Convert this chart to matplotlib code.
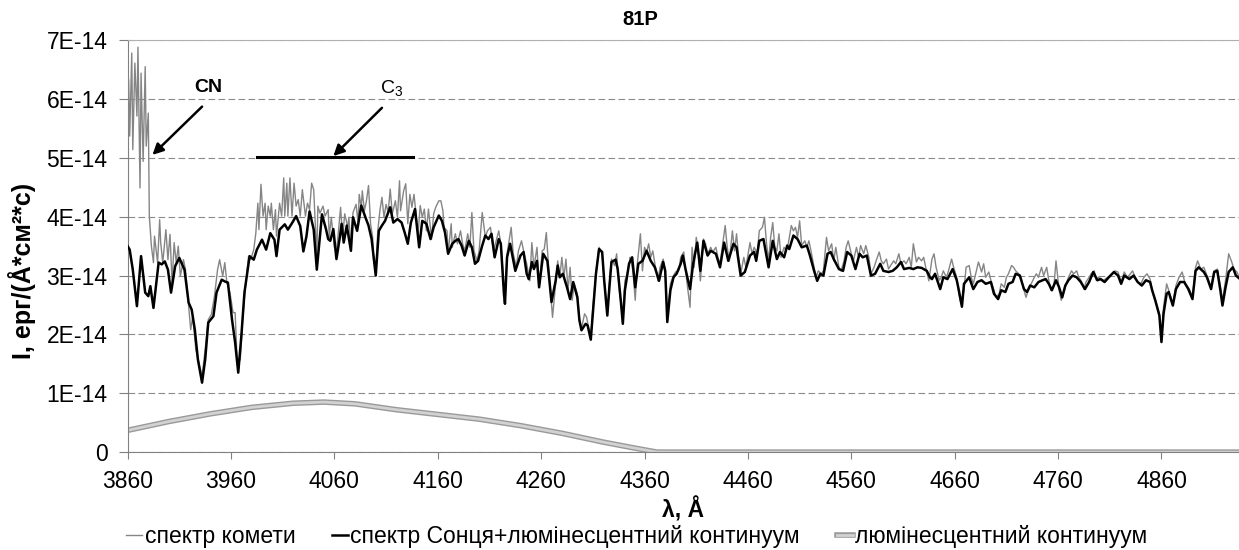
import numpy as np
import matplotlib.pyplot as plt
import matplotlib.patheffects as pe
from matplotlib.ticker import FuncFormatter

plt.rcParams['font.family'] = ['Liberation Sans', 'DejaVu Sans']

# wavelength in A, flux in units of 1E-14 erg/(A*cm2*s)
wl_comet = [3860, 3861, 3862, 3864, 3865, 3867, 3869, 3870, 3872, 3873, 3875, 3877, 3878, 3880,
            3881, 3883, 3885, 3886, 3889, 3891, 3892, 3894, 3897, 3899, 3901, 3903, 3905, 3907,
            3909, 3911, 3914, 3916, 3919, 3921, 3923, 3926, 3929, 3932, 3935, 3938, 3941, 3944,
            3947, 3949, 3952, 3954, 3956, 3959, 3962, 3964, 3966, 3969, 3971, 3974, 3977, 3979,
            3982, 3984, 3986, 3987, 3989, 3991, 3993, 3994, 3996, 3998, 3999, 4001, 4003, 4004,
            4007, 4009, 4011, 4012, 4014, 4015, 4017, 4019, 4021, 4023, 4025, 4027, 4029, 4032,
            4034, 4036, 4038, 4040, 4043, 4044, 4046, 4049, 4051, 4054, 4055, 4057, 4060, 4062,
            4064, 4066, 4068, 4070, 4073, 4074, 4076, 4078, 4081, 4083, 4084, 4086, 4087, 4089,
            4091, 4093, 4095, 4097, 4098, 4100, 4102, 4104, 4106, 4108, 4110, 4112, 4114, 4116,
            4119, 4121, 4123, 4124, 4127, 4129, 4131, 4133, 4135, 4137, 4139, 4141, 4143, 4145,
            4147, 4149, 4151, 4154, 4156, 4158, 4161, 4163, 4165, 4166, 4169, 4170, 4173, 4174,
            4177, 4179, 4182, 4184, 4186, 4189, 4191, 4193, 4195, 4198, 4200, 4203, 4206, 4208,
            4211, 4212, 4214, 4217, 4219, 4221, 4224, 4225, 4227, 4231, 4233, 4236, 4238, 4241,
            4244, 4246, 4249, 4251, 4253, 4256, 4258, 4261, 4263, 4265, 4267, 4269, 4271, 4274,
            4276, 4278, 4280, 4282, 4284, 4286, 4288, 4290, 4292, 4295, 4297, 4299, 4302, 4304,
            4307, 4308, 4310, 4313, 4316, 4319, 4321, 4324, 4326, 4328, 4331, 4333, 4336, 4339,
            4341, 4344, 4346, 4347, 4349, 4351, 4353, 4356, 4358, 4360, 4362, 4364, 4366, 4368,
            4370, 4373, 4375, 4378, 4380, 4382, 4385, 4388, 4390, 4393, 4395, 4398, 4400, 4402,
            4404, 4406, 4408, 4410, 4412, 4414, 4417, 4419, 4421, 4424, 4426, 4429, 4431, 4433,
            4436, 4438, 4440, 4442, 4445, 4447, 4449, 4451, 4453, 4456, 4458, 4462, 4464, 4466,
            4469, 4471, 4474, 4476, 4478, 4480, 4482, 4484, 4486, 4488, 4490, 4492, 4495, 4497,
            4499, 4502, 4504, 4506, 4508, 4510, 4512, 4515, 4517, 4519, 4521, 4524, 4526, 4528,
            4531, 4533, 4536, 4538, 4541, 4543, 4545, 4548, 4550, 4553, 4555, 4557, 4560, 4562,
            4565, 4567, 4569, 4572, 4574, 4577, 4579, 4582, 4584, 4587, 4589, 4591, 4594, 4596,
            4598, 4601, 4603, 4606, 4608, 4611, 4613, 4616, 4618, 4620, 4623, 4625, 4628, 4630,
            4632, 4635, 4638, 4640, 4642, 4645, 4647, 4649, 4652, 4654, 4657, 4659, 4662, 4664,
            4666, 4669, 4671, 4674, 4676, 4678, 4681, 4683, 4686, 4688, 4690, 4693, 4695, 4698,
            4700, 4703, 4705, 4708, 4710, 4712, 4715, 4717, 4719, 4722, 4724, 4727, 4729, 4732,
            4734, 4737, 4739, 4741, 4744, 4746, 4749, 4751, 4753, 4756, 4758, 4761, 4763, 4766,
            4768, 4770, 4773, 4775, 4778, 4780, 4782, 4785, 4787, 4790, 4792, 4795, 4797, 4799,
            4804, 4808, 4811, 4815, 4818, 4821, 4824, 4827, 4830, 4832, 4834, 4837, 4840, 4843,
            4846, 4849, 4851, 4854, 4858, 4860, 4862, 4865, 4867, 4871, 4874, 4877, 4880, 4883,
            4887, 4890, 4893, 4895, 4898, 4901, 4904, 4908, 4911, 4914, 4917, 4919, 4922, 4925,
            4928, 4930, 4933, 4936]
fl_comet = [5.48, 6.33, 5.37, 6.78, 5.14, 6.61, 5.71, 6.88, 4.49, 6.44, 4.94, 6.55, 5.20, 5.76,
            4.01, 3.50, 3.22, 3.67, 3.22, 3.95, 3.56, 3.22, 3.78, 3.27, 3.70, 2.88, 3.56, 3.22,
            3.50, 2.99, 3.27, 3.10, 2.48, 2.08, 2.31, 1.74, 1.52, 1.29, 1.74, 2.25, 2.34, 2.65,
            3.10, 3.27, 2.99, 3.22, 2.88, 2.71, 2.37, 2.37, 1.52, 1.57, 2.20, 2.82, 3.33, 3.27,
            3.44, 3.72, 4.23, 3.78, 4.55, 4.01, 4.23, 3.78, 4.18, 4.01, 4.23, 3.78, 4.12, 3.67,
            4.23, 4.01, 4.66, 4.01, 4.57, 4.01, 4.66, 4.01, 4.57, 4.18, 4.29, 4.01, 4.46, 4.01,
            4.23, 4.12, 4.57, 4.46, 3.30, 4.18, 4.06, 4.18, 4.01, 4.12, 3.65, 3.99, 3.48, 3.40,
            3.76, 4.16, 3.65, 4.05, 3.82, 3.99, 3.48, 4.07, 4.21, 3.88, 4.38, 4.16, 4.44, 4.10,
            4.27, 4.53, 3.88, 3.65, 3.25, 3.08, 3.76, 4.10, 4.33, 3.99, 4.21, 4.07, 4.47, 4.05,
            4.27, 3.99, 4.61, 4.10, 4.44, 4.56, 3.88, 4.38, 4.16, 4.38, 4.05, 3.71, 4.19, 3.99,
            4.13, 3.76, 4.13, 3.62, 4.05, 4.16, 4.27, 4.27, 4.10, 3.82, 3.76, 3.37, 3.88, 3.48,
            3.71, 3.54, 3.76, 3.54, 3.42, 3.71, 3.48, 4.07, 3.42, 3.25, 3.42, 4.07, 3.65, 3.76,
            3.82, 3.65, 3.42, 3.62, 3.76, 3.54, 2.86, 2.52, 3.37, 3.82, 3.37, 3.14, 3.42, 3.59,
            3.34, 3.20, 2.91, 3.56, 3.14, 3.48, 2.80, 3.42, 3.45, 3.73, 3.20, 2.75, 2.29, 2.86,
            3.25, 2.97, 3.31, 2.97, 3.28, 2.75, 3.14, 2.58, 2.86, 2.69, 2.24, 2.10, 2.35, 2.29,
            2.01, 1.95, 2.46, 3.03, 3.48, 3.37, 2.91, 2.35, 2.86, 3.28, 3.17, 3.37, 2.69, 2.24,
            2.91, 3.08, 3.31, 3.28, 3.03, 2.58, 3.20, 3.71, 3.08, 3.48, 3.40, 3.54, 3.31, 3.42,
            3.20, 2.91, 3.14, 3.28, 3.08, 2.29, 2.86, 3.00, 3.06, 3.08, 3.31, 3.40, 3.03, 2.75,
            2.46, 3.48, 3.14, 3.65, 3.42, 2.91, 3.62, 3.54, 3.37, 3.48, 3.40, 3.48, 3.31, 3.20,
            3.59, 3.85, 3.48, 3.25, 3.76, 3.42, 3.71, 3.31, 3.03, 3.31, 3.14, 3.56, 3.37, 3.48,
            3.37, 3.76, 3.82, 3.99, 3.54, 3.25, 3.65, 3.90, 3.48, 3.42, 3.71, 3.31, 3.48, 3.42,
            3.54, 3.85, 3.76, 3.82, 3.65, 3.93, 3.51, 3.59, 3.48, 3.59, 3.42, 3.14, 2.97, 3.08,
            3.03, 3.08, 3.65, 3.42, 3.54, 3.25, 3.48, 3.14, 3.08, 3.25, 3.48, 3.59, 3.37, 3.25,
            3.48, 3.31, 3.51, 3.37, 3.51, 3.31, 3.03, 3.14, 3.25, 3.40, 3.25, 3.20, 3.28, 3.11,
            3.17, 3.25, 3.20, 3.37, 3.20, 3.25, 3.20, 3.31, 3.14, 3.54, 3.23, 3.31, 3.25, 3.31,
            3.14, 2.91, 3.28, 3.37, 3.14, 2.92, 2.97, 3.08, 2.97, 3.08, 3.28, 3.14, 2.97, 2.69,
            2.52, 2.75, 3.14, 3.17, 2.97, 2.86, 3.08, 3.23, 3.06, 3.20, 2.97, 3.06, 2.92, 2.75,
            2.63, 2.69, 2.86, 2.80, 2.97, 3.03, 3.17, 3.14, 3.08, 3.03, 2.97, 2.75, 2.63, 2.80,
            2.86, 2.97, 3.03, 2.97, 3.14, 3.00, 3.14, 2.92, 2.75, 2.83, 3.25, 2.75, 2.58, 2.75,
            2.86, 2.97, 3.08, 3.03, 3.08, 2.97, 2.92, 2.77, 2.89, 2.97, 3.03, 3.08, 2.92, 2.97,
            2.92, 2.97, 3.00, 3.08, 3.06, 2.89, 3.06, 2.97, 3.03, 3.08, 3.00, 2.89, 2.86, 2.97,
            3.03, 2.94, 2.75, 2.58, 2.35, 1.90, 2.46, 2.86, 2.75, 2.52, 2.83, 2.97, 3.06, 2.86,
            2.77, 2.63, 3.14, 3.25, 3.11, 3.14, 3.00, 2.80, 3.08, 3.11, 2.80, 2.58, 2.92, 3.37,
            3.23, 3.11, 3.06, 2.94]

wl_sun = [3860, 3862, 3865, 3869, 3873, 3877, 3880, 3882, 3885, 3890, 3893, 3896, 3899, 3902,
          3906, 3910, 3915, 3919, 3922, 3925, 3928, 3932, 3935, 3938, 3943, 3946, 3951, 3954,
          3957, 3961, 3964, 3967, 3970, 3973, 3978, 3982, 3985, 3990, 3994, 3998, 4002, 4004,
          4007, 4012, 4015, 4019, 4023, 4027, 4030, 4033, 4036, 4040, 4043, 4048, 4052, 4054,
          4056, 4059, 4062, 4065, 4067, 4069, 4072, 4076, 4078, 4082, 4086, 4090, 4093, 4096,
          4098, 4100, 4103, 4106, 4109, 4114, 4117, 4121, 4125, 4128, 4131, 4134, 4138, 4142,
          4145, 4149, 4153, 4156, 4161, 4164, 4167, 4170, 4174, 4177, 4180, 4183, 4186, 4190,
          4193, 4196, 4199, 4203, 4206, 4209, 4212, 4215, 4219, 4221, 4224, 4225, 4227, 4230,
          4235, 4240, 4243, 4246, 4248, 4251, 4253, 4256, 4258, 4262, 4266, 4268, 4270, 4274,
          4276, 4278, 4281, 4285, 4288, 4291, 4295, 4297, 4299, 4303, 4305, 4308, 4310, 4313,
          4316, 4319, 4321, 4324, 4326, 4328, 4332, 4334, 4337, 4339, 4341, 4345, 4348, 4351,
          4354, 4358, 4362, 4366, 4370, 4374, 4378, 4380, 4382, 4385, 4388, 4391, 4395, 4397,
          4400, 4404, 4407, 4411, 4414, 4417, 4421, 4424, 4429, 4433, 4437, 4441, 4446, 4449,
          4453, 4457, 4462, 4466, 4468, 4471, 4475, 4480, 4484, 4488, 4491, 4495, 4498, 4500,
          4504, 4508, 4512, 4517, 4520, 4524, 4527, 4530, 4533, 4537, 4540, 4543, 4548, 4552,
          4556, 4560, 4564, 4568, 4571, 4575, 4579, 4583, 4588, 4591, 4596, 4600, 4604, 4608,
          4611, 4616, 4620, 4624, 4628, 4633, 4636, 4638, 4641, 4646, 4649, 4653, 4658, 4662,
          4664, 4667, 4669, 4674, 4678, 4682, 4686, 4690, 4695, 4698, 4702, 4705, 4709, 4712,
          4716, 4719, 4723, 4727, 4730, 4733, 4737, 4741, 4745, 4748, 4751, 4754, 4758, 4761,
          4764, 4767, 4770, 4774, 4778, 4782, 4786, 4790, 4794, 4798, 4801, 4805, 4809, 4814,
          4818, 4821, 4824, 4829, 4833, 4837, 4841, 4845, 4849, 4851, 4854, 4858, 4860, 4862,
          4865, 4867, 4871, 4874, 4878, 4882, 4886, 4890, 4893, 4896, 4901, 4904, 4908, 4911,
          4914, 4917, 4919, 4922, 4925, 4929, 4932, 4936]
fl_sun = [3.50, 3.44, 3.10, 2.48, 3.33, 2.71, 2.65, 2.82, 2.45, 3.22, 3.19, 3.24, 3.10, 2.71,
          3.16, 3.30, 3.10, 2.54, 2.42, 2.08, 1.57, 1.18, 1.57, 2.20, 2.31, 2.71, 2.93, 2.90,
          2.88, 2.25, 1.86, 1.35, 1.97, 2.71, 3.33, 3.27, 3.44, 3.61, 3.44, 3.72, 3.61, 3.33,
          3.78, 3.87, 3.78, 3.89, 4.01, 3.84, 3.41, 3.67, 4.09, 3.78, 3.10, 4.04, 3.78, 3.62,
          3.59, 3.79, 3.28, 3.62, 3.88, 3.56, 3.85, 3.42, 3.99, 3.76, 4.19, 3.99, 3.85, 3.62,
          3.31, 3.00, 3.76, 3.85, 3.93, 4.16, 3.90, 3.96, 3.90, 3.73, 3.54, 3.90, 4.13, 3.48,
          3.93, 3.88, 3.62, 3.82, 4.02, 3.93, 3.73, 3.37, 3.54, 3.59, 3.62, 3.51, 3.34, 3.59,
          3.48, 3.20, 3.25, 3.51, 3.68, 3.62, 3.71, 3.31, 3.62, 3.54, 2.69, 2.52, 3.31, 3.54,
          3.08, 3.34, 3.40, 3.03, 2.94, 3.23, 3.11, 3.25, 2.80, 3.37, 3.25, 2.91, 2.55, 2.91,
          3.17, 2.97, 3.03, 2.80, 2.60, 2.89, 2.63, 2.24, 2.07, 2.18, 2.15, 1.91, 2.35, 3.03,
          3.45, 3.40, 2.91, 2.32, 2.80, 3.23, 3.27, 3.11, 2.58, 2.18, 2.75, 3.20, 3.31, 2.80,
          3.20, 3.25, 3.42, 3.25, 3.14, 2.91, 3.23, 3.08, 2.21, 2.75, 2.97, 3.03, 3.20, 3.34,
          3.08, 2.77, 3.20, 3.56, 3.08, 3.59, 3.34, 3.42, 3.37, 3.14, 3.56, 3.25, 3.54, 3.48,
          3.00, 3.06, 3.34, 3.40, 3.25, 3.59, 3.62, 3.14, 3.59, 3.28, 3.40, 3.31, 3.51, 3.45,
          3.68, 3.62, 3.48, 3.51, 3.34, 3.08, 2.91, 3.03, 3.00, 3.37, 3.40, 3.28, 3.11, 3.08,
          3.40, 3.34, 3.11, 3.37, 3.31, 3.34, 3.00, 3.03, 3.20, 3.08, 3.06, 3.08, 3.14, 3.23,
          3.11, 3.13, 3.11, 3.14, 3.13, 3.08, 2.97, 2.94, 3.03, 2.77, 2.97, 2.94, 3.11, 2.92,
          2.75, 2.47, 2.86, 2.97, 2.77, 2.89, 2.92, 2.86, 2.89, 2.69, 2.60, 2.75, 2.72, 2.86,
          2.89, 3.03, 3.00, 2.77, 2.72, 2.83, 2.80, 2.89, 2.92, 2.94, 2.86, 2.75, 2.92, 2.80,
          2.63, 2.83, 2.92, 3.00, 2.97, 2.89, 2.77, 2.89, 3.06, 2.92, 2.94, 2.89, 2.97, 3.06,
          3.00, 2.86, 3.00, 2.94, 3.00, 2.89, 2.83, 2.92, 2.89, 2.75, 2.58, 2.32, 1.87, 2.35,
          2.69, 2.72, 2.49, 2.77, 2.89, 2.89, 2.77, 2.60, 3.08, 3.14, 3.06, 2.97, 2.77, 3.06,
          3.08, 2.75, 2.49, 2.80, 3.06, 3.14, 3.00, 2.94]

wl_cont = [3860, 3900, 3940, 3980, 4020, 4050, 4080, 4120, 4160, 4200, 4240, 4280, 4320, 4350,
           4372, 4936]
fl_cont = [0.37, 0.52, 0.65, 0.76, 0.83, 0.85, 0.82, 0.72, 0.64, 0.56, 0.45, 0.32, 0.17, 0.07,
           0.0, 0.0]

xticks = list(range(3860, 4861, 100))
yticks = [0, 1, 2, 3, 4, 5, 6, 7]

E = 1e-14

fig = plt.figure(figsize=(12.39, 5.5), dpi=100)
ax = fig.add_axes([0.103, 0.178, 0.897, 0.749])

ax.plot(wl_comet, np.array(fl_comet) * E, color='#858585', lw=1.0, label='спектр комети', zorder=3)
ax.plot(wl_sun, np.array(fl_sun) * E, color='black', lw=1.8,
        label='спектр Сонця+люмінесцентний континуум', zorder=4)
ax.plot(wl_cont, np.array(fl_cont) * E, color='#d2d2d2', lw=2.0, label='люмінесцентний континуум',
        zorder=2, path_effects=[pe.Stroke(linewidth=4, foreground='#9a9a9a'), pe.Normal()])

ax.set_xlim(3860, 4935)
ax.set_ylim(0, 7 * E)
ax.set_xticks(xticks)
ax.set_yticks([v * E for v in yticks])
ax.yaxis.set_major_formatter(FuncFormatter(lambda v, p: '0' if abs(v) < 1e-20 else format(v, '.0E')))
ax.tick_params(axis='both', labelsize=16.5, color='#808080', direction='out')
ax.tick_params(axis='y', length=6.5, pad=8)
ax.tick_params(axis='x', length=5, pad=8)

ax.yaxis.grid(True, linestyle=(0, (6, 3)), color='#8a8a8a', lw=0.8)
ax.set_axisbelow(True)
for side in ['left', 'bottom']:
    ax.spines[side].set_color('#808080')
ax.spines['top'].set_color('#b0b0b0')
ax.spines['right'].set_visible(False)

ax.set_xlabel('λ, Å', fontsize=16.5, fontweight='bold', labelpad=3)
ax.set_ylabel('I, ерг/(Å*см²*с)', fontsize=18, fontweight='bold')
ax.yaxis.set_label_coords(-0.082, 0.44)
fig.text(0.517, 0.965, '81P', ha='center', va='center', fontsize=14.5, fontweight='bold')

# band markers
ax.plot([3985, 4136], [5.02 * E, 5.02 * E], color='black', lw=2.2, zorder=5)
arrow = dict(arrowstyle='-|>', color='black', lw=1.8, mutation_scale=16, shrinkA=0, shrinkB=0)
ax.annotate('', xy=(3884, 5.05 * E), xytext=(3932, 5.87 * E), arrowprops=arrow, zorder=6)
ax.annotate('', xy=(4059, 5.03 * E), xytext=(4106, 5.85 * E), arrowprops=arrow, zorder=6)
ax.text(3938, 6.19 * E, 'CN', ha='center', va='center', fontsize=14, fontweight='bold')
ax.text(4115, 6.17 * E, r'C$_\mathregular{3}$', ha='center', va='center', fontsize=14)

fig.legend(loc='center', bbox_to_anchor=(0.514, 0.024), ncol=3, frameon=False, fontsize=16.5,
           handlelength=0.7, handletextpad=0.1, columnspacing=1.6, borderpad=0.2)

fig.savefig('out.png', dpi=100)
